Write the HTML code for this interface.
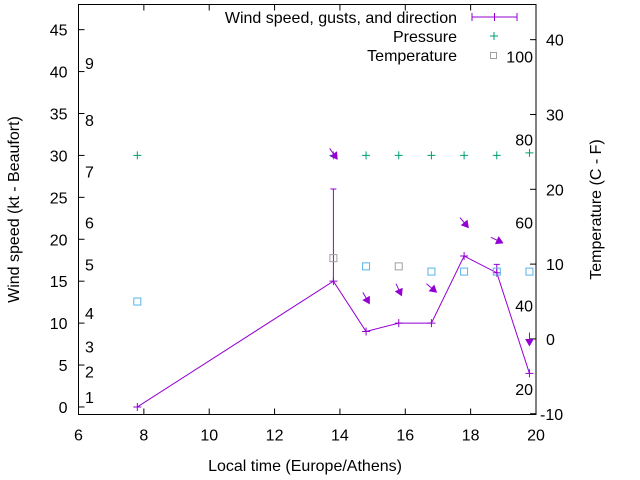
<!DOCTYPE html>
<html><head><meta charset="utf-8"><style>
body{margin:0;background:#fff}
svg{display:block;font-family:"Liberation Sans",sans-serif}
</style></head><body>
<svg id="c" width="640" height="480"></svg>
<script>
const times=[7.8,13.8,14.8,15.8,16.8,17.8,18.8,19.8];
const wind=[0,15,9,10,10,18,16,4];
const gust=[0,26,9,10,10,18,17,4];
const pressure=[30,30,30,30,30,30,30,30.3];
const temp=[5,10.8,9.7,9.7,9,9,9,9];
const tempGray=[false,true,false,true,false,false,false,false];
const arrowT=[13.8,14.8,15.8,16.8,17.8,18.8,19.8];
const arrowY=[30.2,13,14,14.2,22,19.9,8.1];
const arrowDir=[145,150,155,130,140,115,180];
const xTicks=[6,8,10,12,14,16,18,20];
const yTicks=[0,5,10,15,20,25,30,35,40,45];
const y2Ticks=[-10,0,10,20,30,40];
const bft=[1,2,3,4,5,6,7,8,9];
const bftKt=[1.2,4.2,7.2,11.2,17,22,28.1,34.2,41];
const fLabels=[20,40,60,80,100];

const L=78.5,R=536,T=4.5,B=414.5;
const X=v=>L+(v-6)/(20-6)*(R-L);
const Y=v=>B-(v+0.9)/(48+0.9)*(B-T);
const Y2=v=>B-(v+10.1)/(44.7+10.1)*(B-T);
const svg=document.getElementById('c');
const NS='http://www.w3.org/2000/svg';
function mk(tag,a,txt){const e=document.createElementNS(NS,tag);for(const k in a)e.setAttribute(k,a[k]);if(txt!==undefined)e.textContent=txt;svg.appendChild(e);return e;}

let e=mk('rect',{x:L,y:T,width:R-L,height:B-T,fill:'none',stroke:'#000','stroke-width':1});


xTicks.forEach(t=>{
  mk('line',{x1:X(t),x2:X(t),y1:B,y2:B-6,stroke:'#000'});
  mk('line',{x1:X(t),x2:X(t),y1:T,y2:T+6,stroke:'#000'});
  e=mk('text',{x:X(t),y:B+26,'text-anchor':'middle','font-size':16},t);
  
  
});
yTicks.forEach(t=>{
  mk('line',{x1:L,x2:L+6,y1:Y(t),y2:Y(t),stroke:'#000'});
  e=mk('text',{x:L-11,y:Y(t)+6,'text-anchor':'end','font-size':16},t);
  
  
});
y2Ticks.forEach(t=>{
  mk('line',{x1:R-6,x2:R,y1:Y2(t),y2:Y2(t),stroke:'#000'});
  e=mk('text',{x:R+4+(t<0?0:6),y:Y2(t)+6,'text-anchor':'start','font-size':16},t);
  
  
});
bft.forEach((b,i)=>{
  e=mk('text',{x:85,y:Y(bftKt[i])+6,'font-size':16},b);
  
  
});
fLabels.forEach(f=>{
  e=mk('text',{x:533,y:Y2((f-32)*5/9)+6,'text-anchor':'end','font-size':16},f);
  
  
});
e=mk('text',{x:305,y:471,'text-anchor':'middle','font-size':16},'Local time (Europe/Athens)');


e=mk('text',{x:0,y:0,'text-anchor':'middle','font-size':16,transform:`translate(19,${(T+B)/2}) rotate(-90)`},'Wind speed (kt - Beaufort)');


e=mk('text',{x:0,y:0,'text-anchor':'middle','font-size':16,transform:`translate(601,${(T+B)/2}) rotate(-90)`},'Temperature (C - F)');



const P='#9400d3';
e=mk('polyline',{points:times.map((t,i)=>X(t)+','+Y(wind[i])).join(' '),fill:'none',stroke:P,'stroke-width':1});


times.forEach((t,i)=>{
  const x=X(t),y=Y(wind[i]);
  e=mk('path',{d:`M${x-4},${y}h8M${x},${y-4}v8`,stroke:P,fill:'none'});
  
  
  if(gust[i]>wind[i]){
    const g=Y(gust[i]);
    e=mk('path',{d:`M${x},${y}V${g}M${x-3},${g}h6`,stroke:P,fill:'none'});
    
    
  }
  const py=Y(pressure[i]);
  e=mk('path',{d:`M${x-4},${py}h8M${x},${py-4}v8`,stroke:'#009e73',fill:'none'});
  
  
  const ty=Y2(temp[i]);
  e=mk('rect',{x:x-3.5,y:ty-3.5,width:7,height:7,fill:'none',stroke:tempGray[i]?'#a0a0a0':'#56b4e9'});
  
  
});
arrowT.forEach((t,i)=>{
  const cx=X(t),cy=Y(arrowY[i]),a=arrowDir[i]*Math.PI/180;
  const dx=Math.sin(a),dy=-Math.cos(a),len=13;
  const x1=cx-dx*len/2,y1=cy-dy*len/2,x2=cx+dx*len/2,y2=cy+dy*len/2;
  const bx=x2-dx*6,by=y2-dy*6,px=-dy*3.5,py=dx*3.5;
  e=mk('path',{d:`M${x1},${y1}L${bx},${by}M${x2},${y2}L${bx+px},${by+py}L${bx-px},${by-py}Z`,stroke:P,fill:P,'stroke-width':1});
  
  
});
// legend
e=mk('text',{x:457,y:23,'text-anchor':'end','font-size':16},'Wind speed, gusts, and direction');


mk('path',{d:'M472,17h45M472,13v8M517,13v8M494.5,13v8',stroke:P,fill:'none'});
e=mk('text',{x:457,y:42,'text-anchor':'end','font-size':16},'Pressure');


mk('path',{d:'M490,36h8M494,32v8',stroke:'#009e73',fill:'none'});
e=mk('text',{x:457,y:61,'text-anchor':'end','font-size':16},'Temperature');


mk('rect',{x:490.5,y:52.5,width:6,height:6,fill:'none',stroke:'#a0a0a0'});
</script></body></html>
